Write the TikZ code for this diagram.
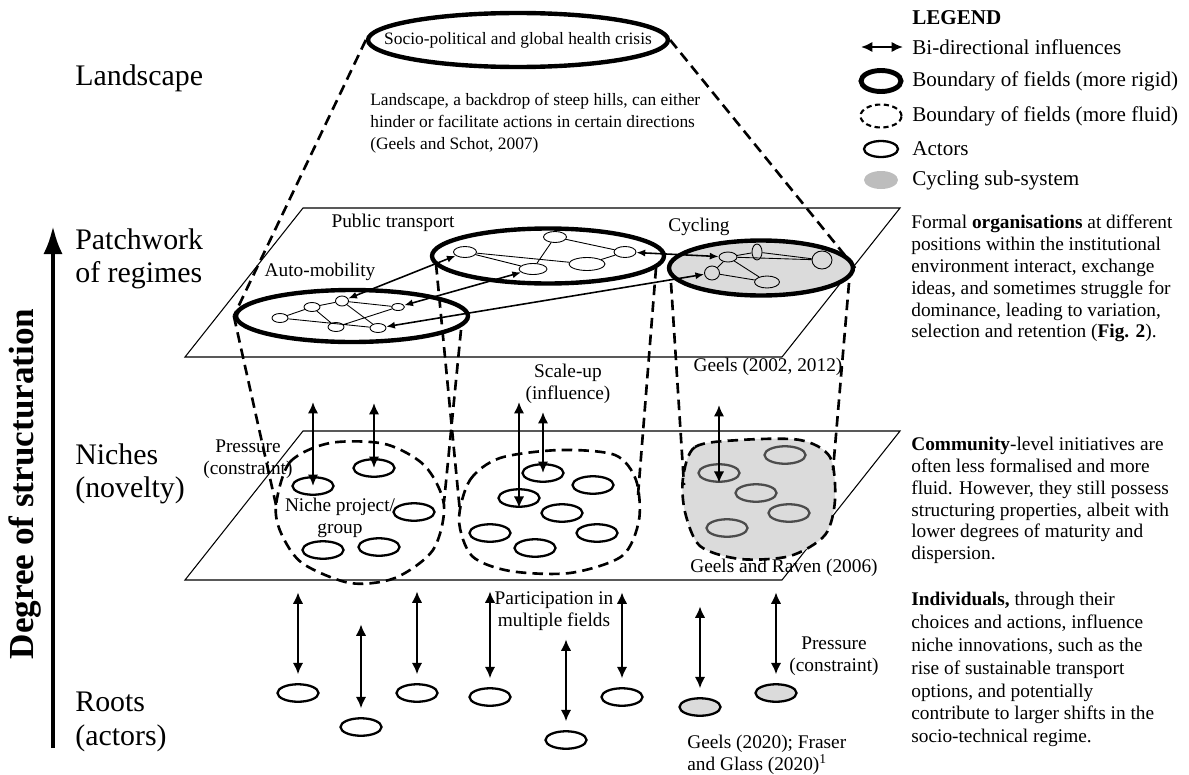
\documentclass[tikz,border=0pt]{standalone}
\usepackage{fontspec}
\setmainfont{Liberation Serif}
\usetikzlibrary{shapes.geometric,arrows.meta}
\definecolor{cycgray}{gray}{0.86}
\definecolor{leggray}{gray}{0.74}
\definecolor{actgray}{gray}{0.3}
\tikzset{
    rigid/.style={ellipse, draw, line width=2.5pt, inner sep=0pt},
    fluid/.style={line width=1.5pt, dash pattern=on 6pt off 3.5pt},
    actor/.style={ellipse, draw, line width=1.3pt, inner sep=0pt,
        minimum width=0.82cm, minimum height=0.35cm},
    netnode/.style={ellipse, draw, line width=0.5pt, inner sep=0pt,
        minimum width=0.32cm, minimum height=0.18cm},
    netlink/.style={line width=0.5pt},
    biarrow/.style={{Latex[length=6.5pt,width=6pt]}-{Latex[length=6.5pt,width=6pt]}, line width=1.4pt},
    linkarrow/.style={{Latex[length=5pt,width=4pt]}-{Latex[length=5pt,width=4pt]}, line width=0.9pt},
    plane/.style={line width=0.6pt},
    lbl/.style={font=\fontsize{11}{12.5}\selectfont, align=center, inner sep=0pt},
    level/.style={font=\fontsize{17}{19}\selectfont, align=left, anchor=west, inner sep=0pt},
    para/.style={font=\fontsize{11}{12.4}\selectfont, align=left, anchor=north west, inner sep=0pt},
    legtext/.style={font=\fontsize{12}{14}\selectfont, anchor=west, inner sep=0pt},
}

\begin{document}
\begin{tikzpicture}[x=0.02cm, y=-0.02cm]
    \useasboundingbox (0,0) rectangle (1189,774);

    % levels and structuration axis
    \node[level] (lland) at (75,78) {Landscape};
    \node[level] (lreg) at (75,259) {Patchwork\\of regimes};
    \node[level] (lniche) at (75,474) {Niches\\(novelty)};
    \node[level] (lroot) at (75,722) {Roots\\(actors)};
    \coordinate (axbot) at (53,748);
    \coordinate (axtop) at (53,226);
    \draw[line width=2.4pt, -{Latex[length=16pt,width=11pt]}] (axbot) -- (axtop);
    \node[rotate=90, font=\fontsize{20}{22}\selectfont\bfseries, inner sep=0pt] (degree) at (25,484) {Degree of structuration};

    % landscape
    \node[rigid, minimum width=6cm, minimum height=1.08cm] (crisis) at (518,40) {};
    \node[font=\fontsize{9.9}{11}\selectfont, inner sep=0pt] (crisistext) at (crisis.center) {Socio-political and global health crisis};
    \node[para, font=\fontsize{9.9}{12.5}\selectfont] (landtext) at (370,93) {Landscape, a backdrop of steep hills, can either\\hinder or facilitate actions in certain directions\\(Geels and Schot, 2007)};

    % planes
    \draw[plane] (185,357) -- (303,208) -- (900,208) -- (782,357) -- cycle;
    \draw[plane] (185,580) -- (303,431) -- (900,431) -- (782,580) -- cycle;

    % niche blobs
    \draw[fluid] plot[smooth cycle] coordinates {(276,505) (290,462) (330,443) (385,444) (425,466) (444,505) (433,550) (395,578) (350,583) (302,563) (281,533)};
    \draw[fluid] plot[smooth cycle] coordinates {(459,520) (470,480) (500,458) (560,450) (615,455) (636,480) (639,520) (622,556) (570,573) (510,571) (472,556)};
    \draw[fluid, fill=cycgray] plot[smooth cycle] coordinates {(683,478) (695,447) (740,440) (800,440) (830,457) (835,500) (825,535) (790,556) (740,559) (700,546) (685,512)};
    \coordinate (b1w) at (276,505);
    \coordinate (b1e) at (444,502);
    \coordinate (b2w) at (460,512);
    \coordinate (b2e) at (638,495);
    \coordinate (b3w) at (684,485);
    \coordinate (b3e) at (833,470);

    % regimes
    \node[rigid, minimum width=4.64cm, minimum height=1.04cm] (auto) at (352,316) {};
    \node[rigid, minimum width=4.64cm, minimum height=1.1cm] (pt) at (548,256) {};
    \node[rigid, fill=cycgray, minimum width=3.68cm, minimum height=1.1cm] (cyc) at (761,268) {};
    \coordinate (autoe) at (461,330);
    \coordinate (ptw) at (436,264);
    \coordinate (pte) at (656,268);
    \coordinate (cycw) at (671,283);
    \coordinate (cyce) at (849,283);

    % funnel and cylinders
    \draw[fluid] (crisis.west) -- (auto.west);
    \draw[fluid] (crisis.east) -- (cyc.east);
    \draw[fluid] (auto.west) -- (b1w);
    \draw[fluid] (autoe) -- (b1e);
    \draw[fluid] (ptw) -- (b2w);
    \draw[fluid] (pte) -- (b2e);
    \draw[fluid] (cycw) -- (b3w);
    \draw[fluid] (cyce) -- (b3e);

    % auto-mobility network
    \node[netnode] (a1) at (280,318) {};
    \node[netnode] (a2) at (312,307) {};
    \node[netnode, minimum width=0.26cm, minimum height=0.2cm] (a3) at (342,301) {};
    \node[netnode, minimum width=0.26cm, minimum height=0.14cm] (a4) at (398,307) {};
    \node[netnode] (a5) at (336,327) {};
    \node[netnode] (a6) at (378,328) {};
    \draw[netlink] (a1) -- (a2) (a1) -- (a6) (a2) -- (a3) (a2) -- (a5)
        (a3) -- (a4) (a3) -- (a6) (a5) -- (a4);

    % public transport network
    \node[netnode, minimum width=0.46cm, minimum height=0.22cm] (p1) at (465,252) {};
    \node[netnode, minimum width=0.46cm, minimum height=0.22cm] (p2) at (555,237) {};
    \node[netnode, minimum width=0.44cm, minimum height=0.22cm] (p3) at (625,252) {};
    \node[netnode, minimum width=0.56cm, minimum height=0.22cm] (p4) at (533,269) {};
    \node[netnode, minimum width=0.72cm, minimum height=0.26cm] (p5) at (587,264) {};
    \draw[netlink] (p1) -- (p4) (p1) -- (p5) (p2) -- (p4) (p2) -- (p3) (p3) -- (p5);

    % cycling network
    \node[netnode, minimum width=0.36cm, minimum height=0.2cm] (c1) at (728,257) {};
    \node[netnode, minimum width=0.2cm, minimum height=0.32cm] (c2) at (757,252) {};
    \node[netnode, minimum width=0.4cm, minimum height=0.36cm] (c3) at (822,260) {};
    \node[netnode, minimum width=0.3cm, minimum height=0.28cm] (c4) at (712,273) {};
    \node[netnode, minimum width=0.5cm, minimum height=0.24cm] (c5) at (767,282) {};
    \draw[netlink] (c1) -- (c2) (c2) -- (c3) (c1) -- (c3) (c1) -- (c5) (c4) -- (c5) (c4) -- (c1);

    % interaction between regimes
    \draw[linkarrow] (a3) -- (p1);
    \draw[linkarrow] (a4) -- (p4);
    \draw[linkarrow] (a6) -- (c4);
    \draw[linkarrow] (p3) -- (c1);

    % niche actors
    \node[actor] (n1) at (313,486) {};
    \node[actor] (n2) at (374,468) {};
    \node[actor] (n3) at (414,512) {};
    \node[actor] (n4) at (323,550) {};
    \node[actor] (n5) at (379,547) {};
    \node[actor] (m1) at (543,473) {};
    \node[actor] (m2) at (593,485) {};
    \node[actor] (m3) at (519,498) {};
    \node[actor] (m4) at (562,513) {};
    \node[actor] (m5) at (490,533) {};
    \node[actor] (m6) at (597,533) {};
    \node[actor] (m7) at (535,548) {};
    \node[actor, draw=actgray] (k1) at (785,455) {};
    \node[actor, draw=actgray] (k2) at (719,473) {};
    \node[actor, draw=actgray] (k3) at (756,493) {};
    \node[actor, draw=actgray] (k4) at (789,513) {};
    \node[actor, draw=actgray] (k5) at (727,528) {};

    % niche to regime influence
    \coordinate (u1) at (313,402);
    \coordinate (u2) at (374,403);
    \coordinate (u3) at (519,402);
    \coordinate (u4) at (543,412);
    \coordinate (u5) at (719,405);
    \draw[biarrow] (u1) -- (u1 |- n1.center);
    \draw[biarrow] (u2) -- (u2 |- n2.center);
    \draw[biarrow] (u3) -- (u3 |- m3.south);
    \draw[biarrow] (u4) -- (u4 |- m1.center);
    \draw[biarrow] (u5) -- (u5 |- k2.south);

    % roots
    \node[actor] (r1) at (298,693) {};
    \node[actor] (r2) at (361,727) {};
    \node[actor] (r3) at (417,693) {};
    \node[actor] (r4) at (490,697) {};
    \node[actor] (r5) at (566,740) {};
    \node[actor] (r6) at (622,697) {};
    \node[actor, fill=cycgray] (r7) at (700,707) {};
    \node[actor, fill=cycgray] (r8) at (776,693) {};
    \foreach \a/\len in {r1/82, r2/84, r3/83, r4/87, r5/82, r6/86, r7/82, r8/82}
        \draw[biarrow] ([yshift=5pt]\a.north) -- ++(0,-\len);

    % labels
    \node[lbl] (ptlabel) at (393,223) {Public transport};
    \node[lbl] (autolabel) at (320,272) {Auto-mobility};
    \node[lbl] (cyclabel) at (699,227) {Cycling};
    \node[lbl] (regref) at (768,367) {Geels (2002, 2012)};
    \node[lbl] (scaleup) at (568,384) {Scale-up\\(influence)};
    \node[lbl] (pressniche) at (248,459) {Pressure\\(constraint)};
    \node[lbl] (nichegroup) at (340,518) {Niche project/\\group};
    \node[lbl] (nicheref) at (784,568) {Geels and Raven (2006)};
    \node[lbl] (particip) at (554,611) {Participation in\\multiple fields};
    \node[lbl] (pressroot) at (834,656) {Pressure\\(constraint)};
    \node[lbl, align=left, anchor=west] (rootref) at (687,755) {Geels (2020); Fraser\\and Glass (2020)\textsuperscript{1}};

    % legend
    \node[legtext, font=\fontsize{12}{14}\selectfont\bfseries] (legend) at (912,18) {LEGEND};
    \coordinate (lg1a) at (861,47);
    \coordinate (lg1b) at (903,47);
    \draw[biarrow] (lg1a) -- (lg1b);
    \node[legtext] (leg1) at (912,47) {Bi-directional influences};
    \node[rigid, line width=2.8pt, minimum width=0.8cm, minimum height=0.42cm] (legrigid) at (881,81) {};
    \node[legtext] (leg2) at (912,81) {Boundary of fields (more rigid)};
    \node[ellipse, draw, line width=1.2pt, dash pattern=on 3pt off 2pt, inner sep=0pt, minimum width=0.82cm, minimum height=0.46cm] (legfluid) at (881,116) {};
    \node[legtext] (leg3) at (912,116) {Boundary of fields (more fluid)};
    \node[actor, minimum width=0.68cm, minimum height=0.32cm] (legactor) at (881,149) {};
    \node[legtext] (leg4) at (912,149) {Actors};
    \node[ellipse, fill=leggray, inner sep=0pt, minimum width=0.68cm, minimum height=0.36cm] (legcyc) at (881,180) {};
    \node[legtext] (leg5) at (912,180) {Cycling sub-system};

    % explanations
    \node[para] (orgtext) at (911,215) {Formal \textbf{organisations} at different\\positions within the institutional\\environment interact, exchange\\ideas, and sometimes struggle for\\dominance, leading to variation,\\selection and retention (\textbf{Fig. 2}).};
    \node[para] (comtext) at (911,437) {\textbf{Community}-level initiatives are\\often less formalised and more\\fluid. However, they still possess\\structuring properties, albeit with\\lower degrees of maturity and\\dispersion.};
    \node[para, font=\fontsize{11}{13}\selectfont] (indtext) at (911,592) {\textbf{Individuals,} through their\\choices and actions, influence\\niche innovations, such as the\\rise of sustainable transport\\options, and potentially\\contribute to larger shifts in the\\socio-technical regime.};
\end{tikzpicture}
\end{document}
